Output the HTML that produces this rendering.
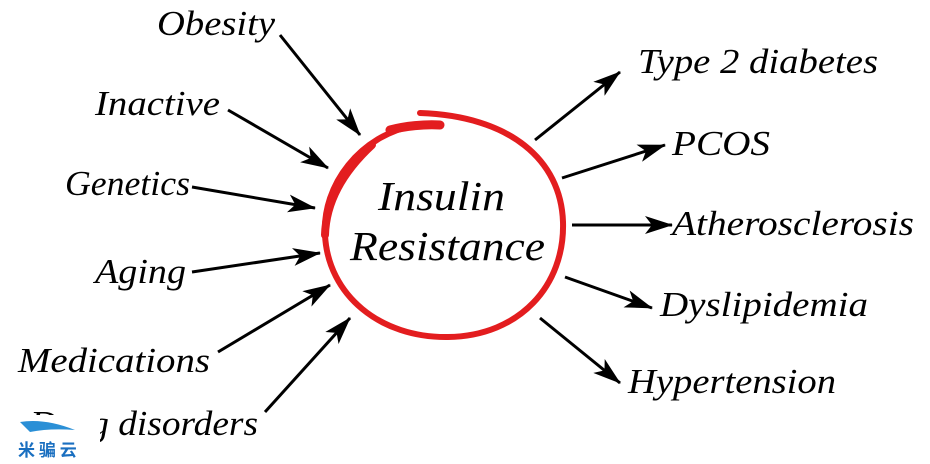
<!DOCTYPE html>
<html><head><style>html,body{margin:0;padding:0;background:#fff;}svg{display:block}
.t{font-family:"Liberation Serif","DejaVu Serif",serif;font-style:italic;font-weight:normal;fill:#000;font-size:35px}
.c{font-size:41px}</style></head>
<body>
<svg width="930" height="464" viewBox="0 0 930 464" xmlns="http://www.w3.org/2000/svg">
<defs>
<marker id="a" viewBox="0 0 28 18" refX="27" refY="9" markerWidth="28" markerHeight="18" markerUnits="userSpaceOnUse" orient="auto">
<path d="M0,0 L28,9 L0,18 L7,9 z" fill="#000"/>
</marker>
</defs>
<rect width="930" height="464" fill="#fff"/>
<g fill="none" stroke="#e31d1f" stroke-linecap="round">
<path d="M416 125 C360 135 322 185 325 235 C328 295 380 338 448 337 C520 336 565 285 563 222 C561 160 510 116 420 113" stroke-width="6"/>
<path d="M372 145 C345 170 326 200 325 235" stroke-width="8"/>
<path d="M390 130 C405 126 425 124 440 125" stroke-width="9"/>
</g>
<g stroke="#000" stroke-width="3" marker-end="url(#a)">
<line x1="280" y1="35" x2="360" y2="135"/>
<line x1="228" y1="110" x2="328" y2="168"/>
<line x1="192" y1="187" x2="315" y2="208"/>
<line x1="192" y1="272" x2="320" y2="253"/>
<line x1="218" y1="352" x2="330" y2="285"/>
<line x1="265" y1="412" x2="350" y2="318"/>
<line x1="535" y1="140" x2="620" y2="72"/>
<line x1="562" y1="178" x2="665" y2="145"/>
<line x1="572" y1="225" x2="672" y2="225"/>
<line x1="565" y1="277" x2="652" y2="308"/>
<line x1="540" y1="318" x2="620" y2="383"/>
</g>
<g>
<text class="t" x="157" y="35" textLength="118" lengthAdjust="spacingAndGlyphs">Obesity</text>
<text class="t" x="95" y="115" textLength="125" lengthAdjust="spacingAndGlyphs">Inactive</text>
<text class="t" x="65" y="195" textLength="125" lengthAdjust="spacingAndGlyphs">Genetics</text>
<text class="t" x="95" y="283" textLength="91" lengthAdjust="spacingAndGlyphs">Aging</text>
<text class="t" x="18" y="372" textLength="192" lengthAdjust="spacingAndGlyphs">Medications</text>
<text class="t" x="30" y="435" textLength="228" lengthAdjust="spacingAndGlyphs">Drug disorders</text>
<text class="t" x="638" y="73" textLength="240" lengthAdjust="spacingAndGlyphs">Type 2 diabetes</text>
<text class="t" x="672" y="155" textLength="98" lengthAdjust="spacingAndGlyphs">PCOS</text>
<text class="t" x="672" y="235" textLength="242" lengthAdjust="spacingAndGlyphs">Atherosclerosis</text>
<text class="t" x="660" y="316" textLength="208" lengthAdjust="spacingAndGlyphs">Dyslipidemia</text>
<text class="t" x="628" y="393" textLength="208" lengthAdjust="spacingAndGlyphs">Hypertension</text>
<text class="t c" x="378" y="210" textLength="127" lengthAdjust="spacingAndGlyphs">Insulin</text>
<text class="t c" x="350" y="260" textLength="195" lengthAdjust="spacingAndGlyphs">Resistance</text>
</g>
<rect x="0" y="415" width="100" height="49" fill="#fff"/>
<path d="M20 422 Q45 418 75 430 Q50 428 30 432 Z" fill="#2a8fd6"/>
<text x="18" y="456" style="font-family:'Noto Sans CJK SC',sans-serif;font-size:17px;font-weight:bold" fill="#1a6fc0">米 骗 云</text>
</svg>
</body></html>
